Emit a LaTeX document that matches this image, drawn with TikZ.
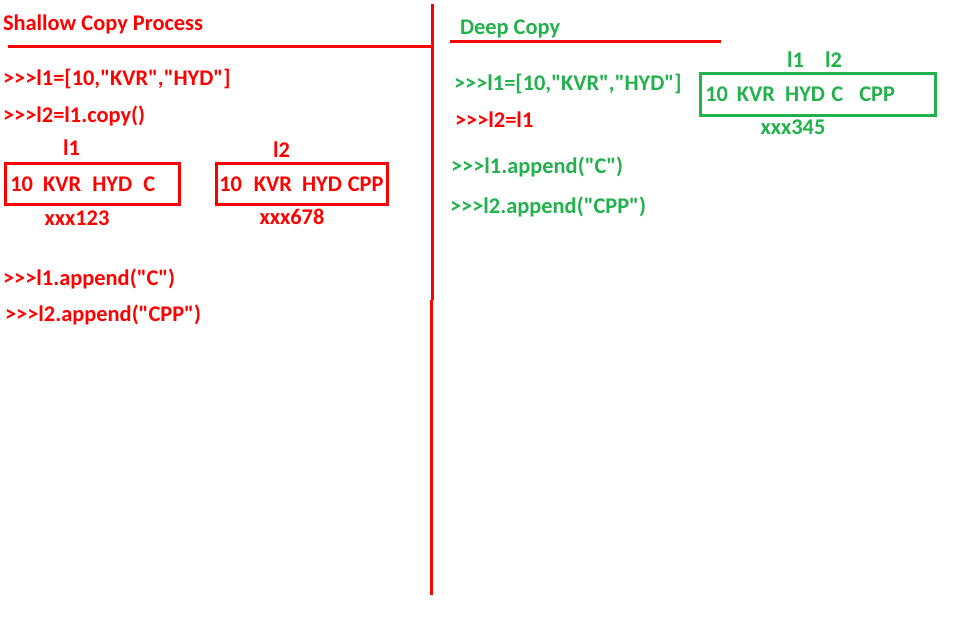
\documentclass[tikz,border=0pt]{standalone}
\usepackage{fontspec}
% plain family: no TeX ligatures, so " stays a straight quote
\newfontfamily\codefont{Carlito}
\begin{document}
\definecolor{penred}{RGB}{255,0,0}
\definecolor{pengreen}{RGB}{34,177,76}
\begin{tikzpicture}[x=0.75pt,y=-0.75pt,
  every node/.style={inner sep=0pt,outer sep=0pt,font=\codefont\bfseries\fontsize{16.8pt}{20pt}\selectfont},
  redtxt/.style={text=penred,anchor=base west},
  greentxt/.style={text=pengreen,anchor=base west},
  rule/.style={draw=penred,line width=2.25pt},
  listbox/.style={draw=#1,text=#1,line width=2.25pt,anchor=center,
    text height=10.8pt,text depth=0pt,align=left,inner ysep=0pt}
]
% canvas
\useasboundingbox[fill=white] (0,0) rectangle (957,620);

% dividers
\coordinate (vtop) at (432,4);
\coordinate (vmid) at (432,300);
\coordinate (vmid2) at (431,300);
\coordinate (vbot) at (431,595);
\draw[rule] (vtop) -- (vmid);
\draw[rule] (vmid2) -- (vbot);
\coordinate (hl1) at (8,46.5);
\coordinate (hl2) at (432,46.5);
\draw[rule] (hl1) -- (hl2);
\coordinate (hr1) at (450,41.5);
\coordinate (hr2) at (721,41.5);
\draw[rule] (hr1) -- (hr2);

% shallow copy side
\node[redtxt] (title1) at (3,31) {Shallow Copy Process};
\node[redtxt] (s1) at (3,86) {>>>l1=[10,"KVR","HYD"]};
\node[redtxt] (s2) at (3,123) {>>>l2=l1.copy()};
\node[redtxt] (lab1) at (63,156) {l1};
\node[redtxt] (lab2) at (273,158) {l2};
\node[listbox=penred,minimum width=130.1pt,minimum height=30.4pt,
  text width=123pt,inner xsep=3.6pt] (box1) at (92.25,184)
  {10\hspace{0.45em}KVR\hspace{0.5em}HYD\hspace{0.5em}C};
\node[listbox=penred,minimum width=128.25pt,minimum height=30.4pt,
  text width=124pt,inner xsep=1.8pt] (box2) at (302,184)
  {10\hspace{0.53em}KVR\hspace{0.45em}HYD\hspace{0.26em}CPP};
\node[text=penred,anchor=base] (addr1) at (77,226) {xxx123};
\node[text=penred,anchor=base] (addr2) at (292,225) {xxx678};
\node[redtxt] (s3) at (3,286) {>>>l1.append("C")};
\node[redtxt] (s4) at (5,322) {>>>l2.append("CPP")};

% deep copy side
\node[greentxt] (title2) at (460,35) {Deep Copy};
\node[greentxt] (d1) at (454,91) {>>>l1=[10,"KVR","HYD"]};
\node[redtxt] (d2) at (455,128) {>>>l2=l1};
\node[greentxt] (d3) at (451,174) {>>>l1.append("C")};
\node[greentxt] (d4) at (450,214) {>>>l2.append("CPP")};
\node[greentxt] (lab3) at (787,68) {l1};
\node[greentxt] (lab4) at (825,68) {l2};
\node[listbox=pengreen,minimum width=173.25pt,minimum height=31.5pt,
  text width=169pt,inner xsep=3.4pt] (box3) at (818,94.5)
  {10\hspace{0.4em}KVR\hspace{0.45em}HYD\hspace{0.28em}C\hspace{0.72em}CPP};
\node[text=pengreen,anchor=base] (addr3) at (793,135) {xxx345};
\end{tikzpicture}
\end{document}
